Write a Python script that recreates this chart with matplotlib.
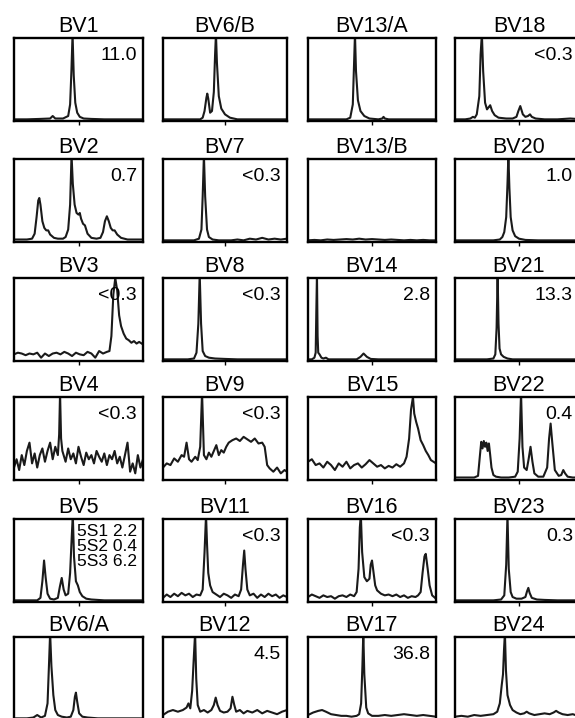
import matplotlib.pyplot as plt

plt.rcParams['font.family'] = ['Liberation Sans', 'DejaVu Sans']

# titles and values, grid order (rows of 4)
titles = ['BV1', 'BV6/B', 'BV13/A', 'BV18',
          'BV2', 'BV7', 'BV13/B', 'BV20',
          'BV3', 'BV8', 'BV14', 'BV21',
          'BV4', 'BV9', 'BV15', 'BV22',
          'BV5', 'BV11', 'BV16', 'BV23',
          'BV6/A', 'BV12', 'BV17', 'BV24']
values = ['11.0', '', '', '<0.3',
          '0.7', '<0.3', '', '1.0',
          '<0.3', '<0.3', '2.8', '13.3',
          '<0.3', '<0.3', '', '0.4',
          None, '<0.3', '<0.3', '0.3',
          '', '4.5', '36.8', '']
bv5_labels = ['5S1 2.2', '5S2 0.4', '5S3 6.2']

# traces (x: % of window, y: % of panel height)
bv1_x = [0, 10, 20, 28, 30, 32, 38, 42, 43.5, 44.5, 45.4, 46.3, 47.5, 49, 51, 54, 60, 70, 80, 90, 100]
bv1_y = [2, 2, 2.5, 3, 6, 3, 3, 6, 20, 60, 105, 55, 22, 10, 5, 3, 2.5, 2, 2, 2, 2]
bv6b_x = [0, 20, 30, 32, 33.5, 35, 35.7, 36.5, 38, 39.5, 41, 42, 42.7, 43.5, 45, 47, 50, 54, 60, 80, 100]
bv6b_y = [2, 2, 2, 4, 12, 28, 33, 27, 10, 12, 35, 80, 105, 70, 30, 15, 8, 4, 2, 2, 2]
bv13a_x = [0, 20, 30, 33, 35, 36, 36.7, 37.5, 39, 41, 44, 48, 55, 58, 59, 60, 63, 80, 100]
bv13a_y = [2, 2, 2, 4, 20, 70, 105, 60, 25, 12, 6, 3, 2, 3, 5, 3, 2, 2, 2]
bv18_x = [0, 8, 12, 14, 15.5, 17, 19, 20, 21, 22, 23.5, 25, 26.5, 27.5, 29, 31, 34, 40, 45, 48,
          49.5, 51, 53, 55, 57, 58.6, 60, 63, 70, 80, 90, 100]
bv18_y = [2, 2, 3, 5, 4, 8, 30, 80, 105, 60, 22, 14, 17, 19, 12, 7, 4, 3, 3, 5,
          12, 18, 8, 5, 6, 8, 5, 3, 2, 2, 3, 2]

bv2_x = [0, 5, 10, 14, 16, 17.5, 18.8, 19.6, 20.5, 22, 23.5, 25, 26.5, 28, 31, 34, 38, 40, 42, 43.5,
         44.6, 45.6, 47, 48.5, 50, 51, 52, 53.5, 55, 57, 60, 64, 67, 69, 70.5, 72, 73.5, 75, 76.5, 78,
         80, 83, 88, 94, 100]
bv2_y = [3, 3, 3, 4, 10, 30, 50, 53, 45, 25, 17, 14, 14, 9, 5, 4, 4, 6, 15, 45,
         105, 70, 45, 35, 33, 35, 28, 22, 20, 10, 5, 4, 5, 12, 25, 31, 25, 17, 14, 14,
         9, 5, 3, 3, 3]
bv7_x = [0, 15, 25, 29, 31, 32, 33, 34, 35.5, 37, 40, 45, 55, 60, 65, 70, 75, 80, 85, 90, 95, 100]
bv7_y = [2, 2, 2, 4, 15, 55, 105, 55, 15, 6, 3, 2, 2, 3, 2, 4, 3, 5, 3, 4, 3, 4]
bv13b_x = [0, 5, 10, 15, 20, 25, 30, 35, 40, 45, 50, 55, 60, 65, 70, 75, 80, 85, 90, 95, 100]
bv13b_y = [2, 2.5, 2, 3, 2.5, 3, 3.5, 3, 4, 3, 3.5, 3, 2.5, 3, 2.5, 2, 2.5, 2, 2.5, 2, 2]
bv20_x = [0, 20, 30, 35, 37, 38.5, 40, 41, 41.7, 42.5, 43.5, 45, 47, 50, 55, 65, 80, 100]
bv20_y = [2, 2, 2, 3, 6, 12, 30, 70, 105, 65, 30, 14, 7, 4, 2.5, 2, 2, 2]

bv3_x = [0, 3, 6, 9, 12, 15, 18, 21, 24, 27, 30, 33, 36, 39, 42, 45, 48, 51, 54, 57,
         60, 63, 66, 69, 72, 74, 75.5, 77, 78.5, 80, 81.5, 83, 85, 87, 89, 91, 93, 95, 97, 100]
bv3_y = [8, 10, 9, 7, 9, 8, 10, 4, 9, 6, 9, 10, 8, 11, 9, 6, 10, 8, 7, 11,
         9, 4, 12, 9, 11, 12, 30, 80, 100, 85, 55, 42, 33, 27, 25, 22, 24, 21, 23, 20]
bv8_x = [0, 10, 20, 25, 27, 28.5, 29.6, 30.7, 32, 34, 37, 42, 50, 60, 80, 100]
bv8_y = [2, 2, 2, 3, 10, 45, 105, 45, 12, 6, 4, 3, 2.5, 2, 2, 2]
bv14_x = [0, 3, 5, 6, 6.5, 7, 7.5, 8, 9, 10.5, 12, 14, 16, 20, 30, 38, 41, 43.4, 46, 49, 55, 70, 85, 100]
bv14_y = [2, 2, 4, 10, 60, 105, 30, 10, 8, 4, 3, 4, 2, 2, 2, 2, 5, 9, 5, 2.5, 2, 2, 2, 2]
bv21_x = [0, 15, 25, 30, 31.5, 32.5, 33.3, 34, 34.8, 36, 38, 41, 45, 55, 70, 100]
bv21_y = [2, 2, 2, 3, 8, 40, 105, 45, 15, 8, 5, 3, 2, 2, 2, 2]

bv4_x = [0, 2, 4, 6, 8, 10, 12, 14, 16, 18, 20, 22, 24, 26, 28, 30, 32, 34, 35, 35.7,
         36.5, 37.5, 40, 42, 44, 46, 48, 50, 52, 54, 56, 58, 60, 62, 64, 66, 68, 70, 72, 74,
         76, 78, 80, 82, 84, 86, 88, 90, 92, 94, 96, 98, 100]
bv4_y = [15, 25, 12, 30, 18, 35, 45, 20, 32, 15, 30, 38, 22, 35, 45, 25, 40, 30, 55, 105,
         50, 35, 22, 38, 25, 32, 20, 40, 28, 18, 33, 25, 30, 20, 35, 28, 22, 32, 18, 30,
         25, 35, 20, 28, 15, 30, 45, 10, 20, 8, 30, 15, 25]
bv9_x = [0, 3, 6, 9, 12, 15, 17, 19, 21, 23, 26, 28, 30, 31.5, 33, 35, 37, 39, 41, 43,
         45, 47, 49, 51, 53, 56, 59, 62, 65, 68, 71, 74, 77, 80, 82, 84, 86, 89, 92, 95, 98, 100]
bv9_y = [15, 20, 18, 26, 22, 30, 28, 45, 25, 22, 28, 24, 40, 105, 30, 25, 33, 28, 35, 42,
         30, 36, 33, 40, 45, 48, 50, 47, 52, 49, 46, 50, 44, 45, 40, 18, 14, 10, 15, 8, 12, 10]
bv15_x = [0, 3, 6, 9, 12, 15, 18, 21, 24, 27, 30, 33, 36, 39, 42, 45, 48, 51, 54, 57,
          60, 63, 66, 69, 72, 75, 77, 79, 80.5, 82, 83, 84.5, 86, 88, 90, 92, 94, 96, 98, 100]
bv15_y = [22, 25, 18, 20, 15, 22, 18, 12, 20, 16, 22, 14, 18, 20, 15, 19, 24, 20, 16, 18,
          14, 17, 15, 19, 16, 20, 28, 50, 85, 100, 80, 70, 62, 48, 42, 35, 30, 24, 22, 20]
bv22_x = [0, 10, 15, 18, 19.5, 20.5, 21.5, 22.5, 23.5, 24.5, 25.5, 26.5, 27.5, 28.5, 30, 32, 36, 42, 47, 49,
          50.5, 51.6, 52.7, 54, 56, 57.5, 59, 60.5, 62, 65, 69, 72, 73.5, 74.7, 76, 78, 81, 83, 84.6, 86,
          88, 92, 100]
bv22_y = [3, 3, 3, 5, 30, 46, 38, 47, 40, 45, 35, 44, 30, 15, 6, 4, 3, 3, 4, 10,
          50, 105, 40, 15, 12, 25, 40, 22, 8, 4, 4, 15, 50, 68, 45, 12, 5, 6, 12, 8,
          4, 3, 3]

bv5_x = [0, 10, 18, 20.5, 22, 23.3, 24.5, 26, 28, 31, 34, 35.5, 37, 38.5, 40, 42, 43.5, 44.8, 45.6, 46.5,
         48, 49.5, 51, 53, 56, 60, 70, 80, 100]
bv5_y = [2, 2, 2, 5, 25, 50, 30, 10, 4, 3, 5, 18, 29, 15, 8, 10, 35, 80, 105, 55,
         25, 20, 12, 7, 4, 3, 2, 2, 2]
bv11_x = [0, 3, 6, 9, 12, 15, 18, 21, 24, 27, 30, 32, 33.5, 34.7, 35.5, 36.5, 38, 40, 43, 46,
          49, 52, 55, 58, 61, 63, 64.5, 65.5, 66.5, 68, 70, 73, 76, 79, 82, 85, 88, 91, 94, 97, 100]
bv11_y = [5, 9, 6, 10, 7, 11, 8, 10, 6, 9, 8, 15, 60, 105, 70, 35, 20, 12, 9, 6,
          10, 8, 5, 9, 7, 15, 45, 62, 40, 15, 8, 10, 5, 9, 6, 10, 7, 9, 5, 8, 6]
bv16_x = [0, 3, 6, 9, 12, 15, 18, 21, 24, 27, 30, 33, 36, 38, 39.5, 40.5, 41.3, 42.3, 44, 46,
          48, 49, 50, 51, 52.5, 54, 57, 60, 63, 66, 69, 72, 75, 78, 81, 84, 86, 88, 89.5, 91,
          92, 93.5, 95, 97, 100]
bv16_y = [6, 9, 7, 5, 8, 6, 7, 4, 7, 8, 6, 9, 7, 12, 40, 90, 105, 60, 30, 25,
          28, 45, 50, 38, 20, 14, 10, 8, 9, 7, 9, 6, 8, 5, 7, 6, 8, 12, 35, 55,
          58, 40, 20, 8, 4]
bv23_x = [0, 15, 30, 36, 38.5, 40, 41, 42, 43.5, 45, 48, 52, 55, 56.3, 57.3, 58.3, 60, 64, 70, 80, 90, 100]
bv23_y = [2, 2, 2, 3, 8, 45, 105, 40, 12, 6, 4, 4, 6, 13, 17, 11, 5, 3, 2.5, 2, 2, 2]

bv6a_x = [0, 10, 15, 18, 21, 24, 26, 27.2, 28, 29, 30.5, 32, 34, 37, 41, 44, 46, 47.2, 48, 49,
          50.5, 53, 57, 65, 75, 85, 100]
bv6a_y = [2, 2, 3, 6, 3, 5, 20, 70, 105, 65, 30, 12, 6, 4, 3, 4, 12, 28, 33, 22,
          8, 4, 3, 2, 2, 2, 2]
bv12_x = [0, 4, 8, 12, 16, 19, 20.5, 22, 23.5, 25, 25.9, 26.8, 28, 30, 33, 36, 39, 41, 42.5, 44,
          46, 49, 52, 54.5, 56, 57.5, 59, 62, 65, 68, 72, 76, 80, 84, 88, 92, 96, 100]
bv12_y = [6, 10, 12, 10, 12, 15, 20, 14, 35, 80, 105, 50, 18, 10, 12, 9, 12, 18, 27, 18,
          11, 9, 10, 14, 28, 18, 10, 12, 8, 11, 9, 12, 8, 11, 9, 7, 10, 12]
bv17_x = [0, 4, 8, 11, 14, 18, 22, 26, 30, 34, 38, 40, 41.5, 42.5, 43.2, 44, 45.5, 47, 50, 55,
          60, 65, 70, 75, 80, 85, 90, 95, 100]
bv17_y = [6, 9, 11, 12, 10, 7, 6, 5, 5, 4, 5, 7, 20, 65, 105, 55, 15, 8, 5, 5,
          6, 5, 6, 7, 6, 5, 6, 5, 4]
bv24_x = [0, 5, 10, 15, 20, 25, 30, 33, 35, 36.5, 37.5, 38.3, 39, 39.8, 41, 43, 45, 48, 51, 54,
          56, 58, 62, 66, 70, 74, 77, 79, 81, 84, 88, 92, 96, 100]
bv24_y = [4, 5, 4, 6, 5, 6, 7, 10, 20, 42, 55, 85, 105, 60, 30, 18, 12, 9, 7, 8,
          10, 8, 6, 7, 8, 7, 9, 11, 9, 7, 6, 7, 5, 6]

traces = [(bv1_x, bv1_y), (bv6b_x, bv6b_y), (bv13a_x, bv13a_y), (bv18_x, bv18_y),
          (bv2_x, bv2_y), (bv7_x, bv7_y), (bv13b_x, bv13b_y), (bv20_x, bv20_y),
          (bv3_x, bv3_y), (bv8_x, bv8_y), (bv14_x, bv14_y), (bv21_x, bv21_y),
          (bv4_x, bv4_y), (bv9_x, bv9_y), (bv15_x, bv15_y), (bv22_x, bv22_y),
          (bv5_x, bv5_y), (bv11_x, bv11_y), (bv16_x, bv16_y), (bv23_x, bv23_y),
          (bv6a_x, bv6a_y), (bv12_x, bv12_y), (bv17_x, bv17_y), (bv24_x, bv24_y)]

# panel layout in pixels
W, H = 575, 718
col_left = [14, 163, 308, 455]
col_width = [129, 124, 128, 128]
row_top = [38, 159, 278, 397, 519, 637]
box_h = 83

fig = plt.figure(figsize=(W / 100, H / 100), dpi=100)

for i, name in enumerate(titles):
    r, c = divmod(i, 4)
    left = col_left[c] / W
    bottom = 1 - (row_top[r] + box_h) / H
    ax = fig.add_axes([left, bottom, col_width[c] / W, box_h / H])
    x, y = traces[i]
    ax.plot(x, y, color='#1a1a1a', lw=1.5)
    ax.set_xlim(0, 100)
    ax.set_ylim(0, 100)
    ax.set_xticks([50])
    ax.set_yticks([])
    ax.tick_params(axis='x', length=3, width=1, direction='out', labelbottom=False)
    for s in ax.spines.values():
        s.set_linewidth(1.7)
    ax.set_title(name, fontsize=15.5, pad=4)
    if values[i] is None:
        for k, lab in enumerate(bv5_labels):
            ax.text(0.49, 0.935 - k * 0.181, lab, transform=ax.transAxes,
                    ha='left', va='top', fontsize=12.5)
    elif values[i]:
        # last column runs past the figure edge; keep its numbers inside
        right_px = min(col_left[c] + col_width[c] - 6, W - 2)
        ax.text((right_px - col_left[c]) / col_width[c], 0.89, values[i],
                transform=ax.transAxes, ha='right', va='top', fontsize=14)

fig.savefig('out.png', dpi=100)
